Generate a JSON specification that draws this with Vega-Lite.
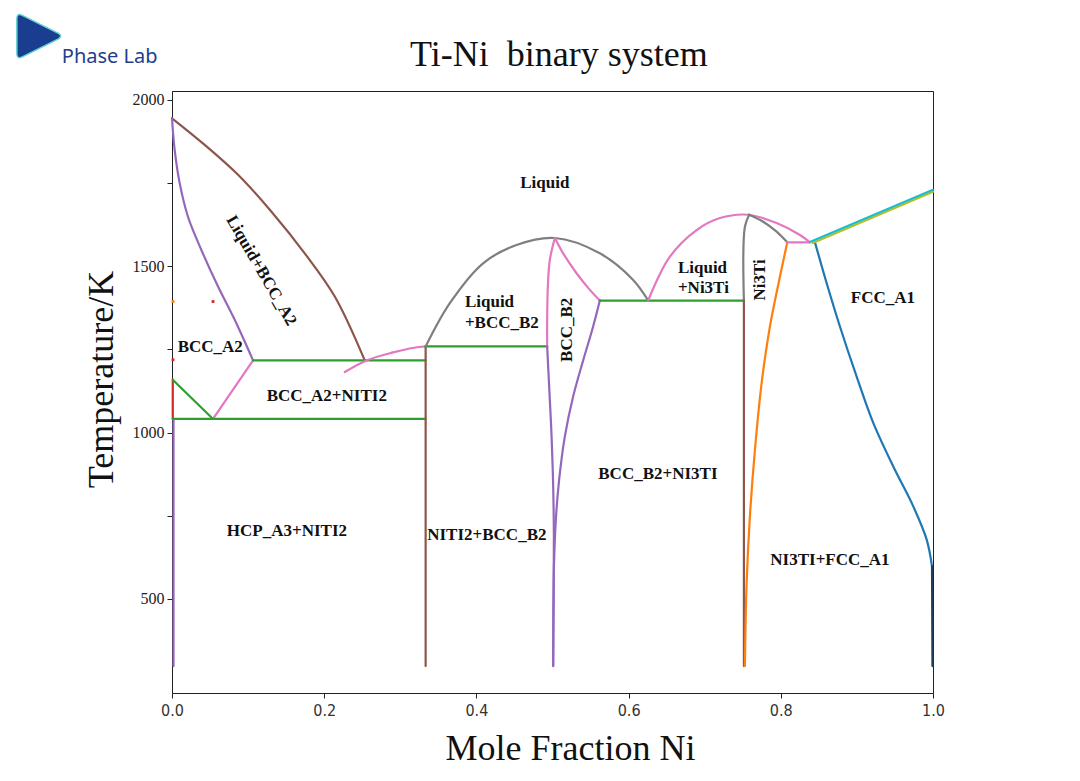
{
  "$schema": "https://vega.github.io/schema/vega-lite/v6.json",
  "autosize": "none",
  "width": 761,
  "height": 602,
  "padding": {"left": 172, "top": 91, "right": 147, "bottom": 88},
  "background": "white",
  "config": {
    "view": {"stroke": "#222", "strokeWidth": 1},
    "axis": {"grid": false, "domainColor": "#222", "tickColor": "#222", "tickSize": 5, "titleFontWeight": "normal", "titleColor": "#111"}
  },
  "datasets": {
    "lines": [
      {"s":"liqA2","i":0,"x":0,"T":1945},{"s":"liqA2","i":1,"x":0.043,"T":1865},{"s":"liqA2","i":2,"x":0.0868,"T":1775},{"s":"liqA2","i":3,"x":0.1307,"T":1664},{"s":"liqA2","i":4,"x":0.1744,"T":1539},{"s":"liqA2","i":5,"x":0.2139,"T":1409},{"s":"liqA2","i":6,"x":0.2533,"T":1217},
      {"s":"solA2","i":0,"x":0,"T":1945},{"s":"solA2","i":1,"x":0.0035,"T":1850},{"s":"solA2","i":2,"x":0.0101,"T":1750},{"s":"solA2","i":3,"x":0.021,"T":1649},{"s":"solA2","i":4,"x":0.0386,"T":1549},{"s":"solA2","i":5,"x":0.0605,"T":1439},{"s":"solA2","i":6,"x":0.0824,"T":1339},{"s":"solA2","i":7,"x":0.1065,"T":1217},
      {"s":"hcp","i":0,"x":0.002,"T":1041},{"s":"hcp","i":1,"x":0.002,"T":298},
      {"s":"redv","i":0,"x":0.001,"T":1159},{"s":"redv","i":1,"x":0.001,"T":1041},
      {"s":"gA2hcp","i":0,"x":0.001,"T":1159},{"s":"gA2hcp","i":1,"x":0.0539,"T":1041},
      {"s":"pA2","i":0,"x":0.0539,"T":1041},{"s":"pA2","i":1,"x":0.1065,"T":1217},
      {"s":"g1041","i":0,"x":0.001,"T":1041},{"s":"g1041","i":1,"x":0.3333,"T":1041},
      {"s":"g1217","i":0,"x":0.1065,"T":1217},{"s":"g1217","i":1,"x":0.3333,"T":1217},
      {"s":"pNiTi2","i":0,"x":0.227,"T":1182},{"s":"pNiTi2","i":1,"x":0.2556,"T":1217},{"s":"pNiTi2","i":2,"x":0.2905,"T":1241},{"s":"pNiTi2","i":3,"x":0.318,"T":1255},{"s":"pNiTi2","i":4,"x":0.3333,"T":1259},
      {"s":"bNiTi2","i":0,"x":0.3333,"T":1259},{"s":"bNiTi2","i":1,"x":0.3333,"T":298},
      {"s":"g1259","i":0,"x":0.3333,"T":1259},{"s":"g1259","i":1,"x":0.493,"T":1259},
      {"s":"grayB2","i":0,"x":0.3333,"T":1259},{"s":"grayB2","i":1,"x":0.3651,"T":1389},{"s":"grayB2","i":2,"x":0.4088,"T":1509},{"s":"grayB2","i":3,"x":0.4527,"T":1564},{"s":"grayB2","i":4,"x":0.5031,"T":1585},{"s":"grayB2","i":5,"x":0.5622,"T":1539},{"s":"grayB2","i":6,"x":0.606,"T":1459},{"s":"grayB2","i":7,"x":0.6257,"T":1397},
      {"s":"pB2L","i":0,"x":0.5031,"T":1585},{"s":"pB2L","i":1,"x":0.4965,"T":1519},{"s":"pB2L","i":2,"x":0.4939,"T":1439},{"s":"pB2L","i":3,"x":0.493,"T":1339},{"s":"pB2L","i":4,"x":0.493,"T":1259},
      {"s":"vB2L","i":0,"x":0.493,"T":1259},{"s":"vB2L","i":1,"x":0.4956,"T":1139},{"s":"vB2L","i":2,"x":0.4988,"T":988},{"s":"vB2L","i":3,"x":0.5009,"T":838},{"s":"vB2L","i":4,"x":0.5018,"T":688},{"s":"vB2L","i":5,"x":0.5009,"T":298},
      {"s":"pB2R","i":0,"x":0.5031,"T":1585},{"s":"pB2R","i":1,"x":0.514,"T":1539},{"s":"pB2R","i":2,"x":0.5316,"T":1479},{"s":"pB2R","i":3,"x":0.5491,"T":1429},{"s":"pB2R","i":4,"x":0.5622,"T":1397},
      {"s":"vB2R","i":0,"x":0.5622,"T":1397},{"s":"vB2R","i":1,"x":0.5534,"T":1319},{"s":"vB2R","i":2,"x":0.5403,"T":1217},{"s":"vB2R","i":3,"x":0.5272,"T":1109},{"s":"vB2R","i":4,"x":0.5162,"T":988},{"s":"vB2R","i":5,"x":0.5087,"T":858},{"s":"vB2R","i":6,"x":0.5044,"T":738},{"s":"vB2R","i":7,"x":0.5018,"T":588},{"s":"vB2R","i":8,"x":0.5009,"T":298},
      {"s":"g1397","i":0,"x":0.5622,"T":1397},{"s":"g1397","i":1,"x":0.7515,"T":1397},
      {"s":"p3","i":0,"x":0.6257,"T":1397},{"s":"p3","i":1,"x":0.6543,"T":1529},{"s":"p3","i":2,"x":0.6894,"T":1609},{"s":"p3","i":3,"x":0.7201,"T":1645},{"s":"p3","i":4,"x":0.7572,"T":1655},{"s":"p3","i":5,"x":0.7945,"T":1630},{"s":"p3","i":6,"x":0.8252,"T":1594},{"s":"p3","i":7,"x":0.8383,"T":1572},
      {"s":"gy3L","i":0,"x":0.7585,"T":1655},{"s":"gy3L","i":1,"x":0.7528,"T":1619},{"s":"gy3L","i":2,"x":0.7515,"T":1397},
      {"s":"b3","i":0,"x":0.7515,"T":1397},{"s":"b3","i":1,"x":0.7515,"T":298},
      {"s":"gy3R","i":0,"x":0.7585,"T":1655},{"s":"gy3R","i":1,"x":0.7769,"T":1634},{"s":"gy3R","i":2,"x":0.7945,"T":1604},{"s":"gy3R","i":3,"x":0.8085,"T":1572},
      {"s":"or3","i":0,"x":0.8085,"T":1572},{"s":"or3","i":1,"x":0.7989,"T":1469},{"s":"or3","i":2,"x":0.7857,"T":1319},{"s":"or3","i":3,"x":0.7748,"T":1149},{"s":"or3","i":4,"x":0.766,"T":948},{"s":"or3","i":5,"x":0.7594,"T":748},{"s":"or3","i":6,"x":0.7551,"T":548},{"s":"or3","i":7,"x":0.7528,"T":298},
      {"s":"pEut","i":0,"x":0.8085,"T":1572},{"s":"pEut","i":1,"x":0.8383,"T":1572},
      {"s":"bl","i":0,"x":0.8449,"T":1572},{"s":"bl","i":1,"x":0.8603,"T":1449},{"s":"bl","i":2,"x":0.8777,"T":1319},{"s":"bl","i":3,"x":0.8997,"T":1168},{"s":"bl","i":4,"x":0.9215,"T":1029},{"s":"bl","i":5,"x":0.9478,"T":898},{"s":"bl","i":6,"x":0.9741,"T":778},{"s":"bl","i":7,"x":0.9917,"T":678},{"s":"bl","i":8,"x":0.9987,"T":598},
      {"s":"navy","i":0,"x":0.9987,"T":598},{"s":"navy","i":1,"x":0.9993,"T":298},
      {"s":"yel","i":0,"x":0.842,"T":1570},{"s":"yel","i":1,"x":1.0,"T":1724},
      {"s":"cyan","i":0,"x":0.8383,"T":1573},{"s":"cyan","i":1,"x":1.0,"T":1730}
    ],
    "labels": [
      {"t":"Liquid","x":0.4899,"T":1750},
      {"t":"BCC_A2","x":0.0503,"T":1258},
      {"t":"BCC_A2+NITI2","x":0.2034,"T":1111},
      {"t":"HCP_A3+NITI2","x":0.151,"T":705},
      {"t":"FCC_A1","x":0.9342,"T":1405},
      {"t":"BCC_B2+NI3TI","x":0.6385,"T":876},
      {"t":"NITI2+BCC_B2","x":0.4137,"T":693},
      {"t":"NI3TI+FCC_A1","x":0.8646,"T":618}
    ],
    "leftLabels": [
      {"t":"Liquid","x":0.3849,"T":1393},
      {"t":"+BCC_B2","x":0.3849,"T":1330},
      {"t":"Liquid","x":0.6648,"T":1495},
      {"t":"+Ni3Ti","x":0.6648,"T":1435}
    ],
    "vertLabels": [
      {"t":"BCC_B2","x":0.519,"T":1309},
      {"t":"Ni3Ti","x":0.7725,"T":1459}
    ],
    "diagLabels": [
      {"t":"Liquid+BCC_A2","x":0.1175,"T":1487}
    ],
    "redDots": [
      {"x":0.0539,"T":1394},{"x":0.0013,"T":1219}
    ],
    "orangeDots": [
      {"x":0.0013,"T":1394}
    ],
    "titleText": [{"t":"Ti-Ni\u00a0 binary system","x":0.5083,"T":2135}],
    "logoIcon": [{"x":-0.1745,"T":2192}],
    "logoText": [{"t":"Phase Lab","x":-0.0819,"T":2129}]
  },
  "encoding": {
    "x": {"field": "x", "type": "quantitative", "scale": {"domain": [0, 1], "nice": false, "zero": false},
      "axis": {"title": "Mole Fraction Ni", "values": [0, 0.2, 0.4, 0.6, 0.8, 1.0], "format": ".1f", "labelFont": "DejaVu Sans Condensed", "labelFontSize": 16, "labelColor": "#333", "labelPadding": 4, "labelFlush": false,
        "titleFont": "Liberation Serif", "titleFontSize": 36, "titleX": 398, "titleY": 55, "titleBaseline": "middle", "titleAlign": "center"}},
    "y": {"field": "T", "type": "quantitative", "scale": {"domain": [217, 2027], "nice": false, "zero": false},
      "axis": {"title": "Temperature/K", "values": [500, 750, 1000, 1250, 1500, 1750, 2000], "format": "d", "labelExpr": "datum.value % 500 === 0 ? datum.label : ''", "labelFont": "Liberation Serif", "labelFontSize": 16, "labelColor": "#222", "labelPadding": 3, "labelFlush": false,
        "titleFont": "Liberation Serif", "titleFontSize": 36, "titleX": -71, "titleY": 288, "titleBaseline": "middle", "titleAlign": "center", "titleAngle": -90}}
  },
  "layer": [
    {
      "data": {"name": "lines"},
      "mark": {"type": "line", "strokeWidth": 2.2, "strokeCap": "round", "strokeJoin": "round", "interpolate": "catmull-rom"},
      "encoding": {
        "detail": {"field": "s"},
        "order": {"field": "i", "type": "quantitative"},
        "color": {"field": "s", "type": "nominal", "legend": null,
          "scale": {"domain": ["liqA2","solA2","hcp","redv","gA2hcp","pA2","g1041","g1217","pNiTi2","bNiTi2","g1259","grayB2","pB2L","vB2L","pB2R","vB2R","g1397","p3","gy3L","b3","gy3R","or3","pEut","bl","navy","yel","cyan"],
            "range": ["#8c564b","#9467bd","#9467bd","#d62728","#2ca02c","#e377c2","#2ca02c","#2ca02c","#e377c2","#8c564b","#2ca02c","#7f7f7f","#e377c2","#9467bd","#e377c2","#9467bd","#2ca02c","#e377c2","#7f7f7f","#8c564b","#7f7f7f","#ff7f0e","#e377c2","#1f77b4","#1f3f5f","#bcbd22","#17becf"]}}
      }
    },
    {
      "data": {"name": "redDots"},
      "mark": {"type": "point", "shape": "square", "filled": true, "opacity": 1, "size": 8, "color": "#d62728"}
    },
    {
      "data": {"name": "orangeDots"},
      "mark": {"type": "point", "shape": "square", "filled": true, "opacity": 1, "size": 8, "color": "#ff7f0e"}
    },
    {
      "data": {"name": "labels"},
      "mark": {"type": "text", "font": "Liberation Serif", "fontWeight": "bold", "fontSize": 17, "color": "#111", "align": "center", "baseline": "middle"},
      "encoding": {"text": {"field": "t"}}
    },
    {
      "data": {"name": "leftLabels"},
      "mark": {"type": "text", "font": "Liberation Serif", "fontWeight": "bold", "fontSize": 17, "color": "#111", "align": "left", "baseline": "middle"},
      "encoding": {"text": {"field": "t"}}
    },
    {
      "data": {"name": "vertLabels"},
      "mark": {"type": "text", "font": "Liberation Serif", "fontWeight": "bold", "fontSize": 17, "color": "#111", "align": "center", "baseline": "middle", "angle": 270},
      "encoding": {"text": {"field": "t"}}
    },
    {
      "data": {"name": "diagLabels"},
      "mark": {"type": "text", "font": "Liberation Serif", "fontWeight": "bold", "fontSize": 17, "color": "#111", "align": "center", "baseline": "middle", "angle": 60},
      "encoding": {"text": {"field": "t"}}
    },
    {
      "data": {"name": "titleText"},
      "mark": {"type": "text", "font": "Liberation Serif", "fontSize": 36, "color": "#111", "align": "center", "baseline": "middle", "clip": false},
      "encoding": {"text": {"field": "t"}}
    },
    {
      "data": {"name": "logoIcon"},
      "mark": {"type": "point", "shape": "M -1 -0.78 L -1 0.78 Q -1 1.05 -0.76 0.93 L 0.86 0.12 Q 1.06 0 0.86 -0.12 L -0.76 -0.93 Q -1 -1.05 -1 -0.78 Z", "filled": true, "opacity": 1, "size": 2000, "color": "#1b3d8f", "stroke": "#5fd3d0", "strokeWidth": 1.5, "clip": false}
    },
    {
      "data": {"name": "logoText"},
      "mark": {"type": "text", "font": "Noto Sans", "fontSize": 20, "color": "#1f3e8f", "align": "center", "baseline": "middle", "clip": false},
      "encoding": {"text": {"field": "t"}}
    }
  ]
}
